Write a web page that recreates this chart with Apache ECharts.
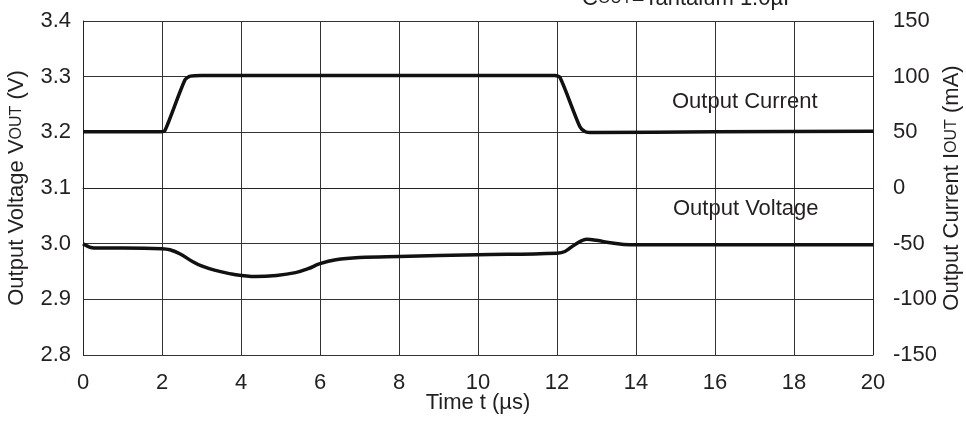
<!DOCTYPE html>
<html>
<head>
<meta charset="utf-8">
<script src="https://cdn.jsdelivr.net/npm/echarts@6/dist/echarts.min.js"></script>
<style>html,body{margin:0;padding:0;background:#fff}#c{width:966px;height:423px}</style>
</head>
<body>
<div id="c"></div>
<script>
// Output voltage (V) vs time (µs)
var voltageTime = [0, 0.1, 0.2, 0.35, 1, 2, 2.2, 2.45, 2.77, 3.0, 3.35, 3.8, 4.37, 4.9, 5.38, 5.7, 6.0, 6.4, 7.0, 8, 10, 12.0, 12.2, 12.45, 12.76, 13.0, 13.4, 13.86, 16, 20];
var voltageValues = [3.0, 2.996, 2.993, 2.992, 2.992, 2.991, 2.989, 2.982, 2.968, 2.960, 2.952, 2.945, 2.941, 2.943, 2.948, 2.955, 2.964, 2.971, 2.975, 2.977, 2.980, 2.983, 2.986, 2.998, 3.008, 3.006, 3.001, 2.998, 2.998, 2.998];
// Output current (mA) vs time (µs)
var currentTime = [0, 1.98, 2.08, 2.58, 2.72, 3, 11.95, 12.08, 12.58, 12.72, 12.9, 16, 20];
var currentValues = [50.5, 50.5, 52, 97, 100.5, 101, 101, 99, 55, 50.5, 49.8, 50.5, 51];
// Axis ticks
var xTicks = [0, 2, 4, 6, 8, 10, 12, 14, 16, 18, 20];
var leftTicks = [2.8, 2.9, 3.0, 3.1, 3.2, 3.3, 3.4];
var rightTicks = [-150, -100, -50, 0, 50, 100, 150];

function pairs(xs, ys) { return xs.map(function (x, i) { return [x, ys[i]]; }); }

var FONT = '"Liberation Sans", Arial, sans-serif';
var FS = 22;
var TXT = '#231f20';
var chart = echarts.init(document.getElementById('c'), null, { renderer: 'canvas' });
chart.setOption({
  animation: false,
  backgroundColor: '#fff',
  grid: { left: 83, right: 93, top: 21, bottom: 68, outerBoundsMode: 'none', containLabel: false },
  xAxis: {
    type: 'value', min: xTicks[0], max: xTicks[xTicks.length - 1], interval: 2,
    name: 'Time t (µs)', nameLocation: 'middle', nameGap: 37, nameMoveOverlap: false,
    nameTextStyle: { fontFamily: FONT, fontSize: FS, color: TXT },
    axisLine: { lineStyle: { color: '#222', width: 1 } },
    axisTick: { show: false },
    axisLabel: { fontFamily: FONT, fontSize: FS, color: TXT, margin: 17 },
    splitLine: { show: true, lineStyle: { color: '#333', width: 1 } }
  },
  yAxis: [{
    type: 'value', min: leftTicks[0], max: leftTicks[leftTicks.length - 1], interval: 0.1,
    position: 'left',
    name: '{n|Output Voltage V}{s|OUT}{n| (V)}', nameLocation: 'middle', nameGap: 55, nameMoveOverlap: false,
    nameTextStyle: { fontFamily: FONT, fontSize: FS, color: TXT,
      rich: { n: { fontFamily: FONT, fontSize: FS, color: TXT }, s: { fontFamily: FONT, fontSize: 16, color: TXT } } },
    axisLine: { show: true, lineStyle: { color: '#222', width: 1 } },
    axisTick: { show: false },
    axisLabel: { fontFamily: FONT, fontSize: FS, color: TXT, margin: 12,
      formatter: function (v) { return v.toFixed(1); } },
    splitLine: { show: true, lineStyle: { color: '#333', width: 1 } }
  }, {
    type: 'value', min: rightTicks[0], max: rightTicks[rightTicks.length - 1], interval: 50,
    position: 'right',
    name: '{n|Output Current I}{s|OUT}{n| (mA)}', nameLocation: 'middle', nameGap: 68, nameMoveOverlap: false,
    nameRotate: 90,
    nameTextStyle: { fontFamily: FONT, fontSize: FS, color: TXT,
      rich: { n: { fontFamily: FONT, fontSize: FS, color: TXT }, s: { fontFamily: FONT, fontSize: 16, color: TXT } } },
    axisLine: { show: true, lineStyle: { color: '#222', width: 1 } },
    axisTick: { show: false },
    axisLabel: { fontFamily: FONT, fontSize: FS, color: TXT, margin: 20 },
    splitLine: { show: false }
  }],
  series: [{
    name: 'Output Current', type: 'line', yAxisIndex: 1, showSymbol: false,
    smooth: 0.25,
    lineStyle: { color: '#111', width: 3.5 },
    data: pairs(currentTime, currentValues)
  }, {
    name: 'Output Voltage', type: 'line', yAxisIndex: 0, showSymbol: false,
    smooth: 0.4,
    lineStyle: { color: '#111', width: 3.5 },
    data: pairs(voltageTime, voltageValues)
  }],
  graphic: [
    { type: 'text', left: 672, top: 91, style: { text: 'Output Current', font: FS + 'px ' + FONT, fill: TXT } },
    { type: 'text', left: 673, top: 198, style: { text: 'Output Voltage', font: FS + 'px ' + FONT, fill: TXT } },
    { type: 'text', left: 582, top: -12, style: {
        text: '{n|C}{s|OUT}{n|=Tantalum 1.0µF}',
        rich: { n: { font: FS + 'px ' + FONT, fill: TXT }, s: { font: '16px ' + FONT, fill: TXT } } } }
  ]
});
</script>
</body>
</html>
